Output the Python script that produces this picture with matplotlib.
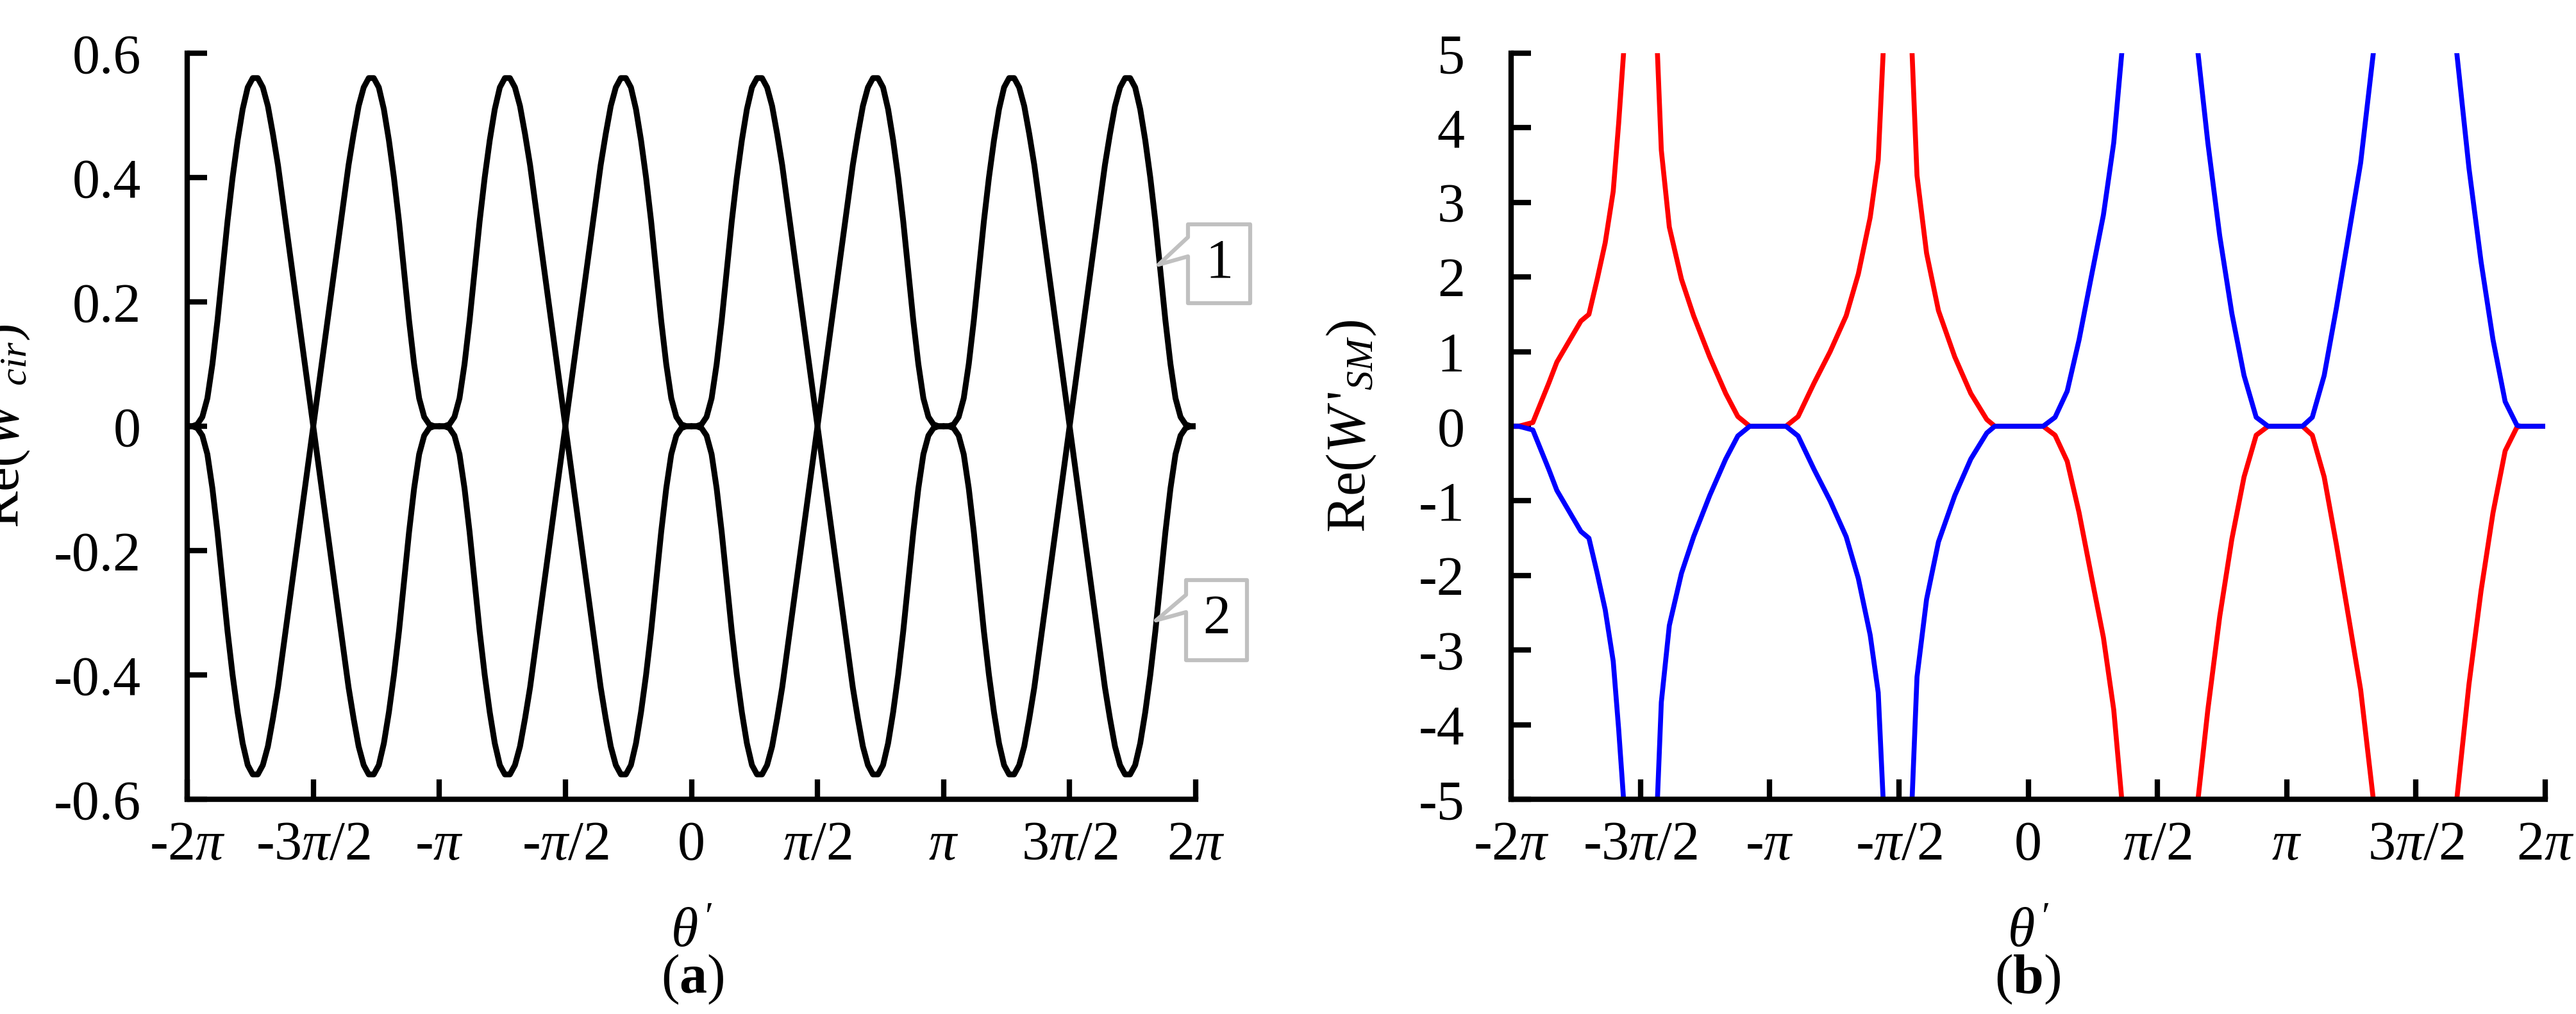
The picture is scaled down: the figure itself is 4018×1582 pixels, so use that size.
import numpy as np
import matplotlib
matplotlib.use('Agg')
import matplotlib.pyplot as plt
from matplotlib.patches import Polygon

plt.rcParams['font.family'] = ['Liberation Serif', 'DejaVu Serif']
plt.rcParams['mathtext.fontset'] = 'custom'
plt.rcParams['mathtext.rm'] = 'Liberation Serif'
plt.rcParams['mathtext.it'] = 'Liberation Serif:italic'
plt.rcParams['mathtext.bf'] = 'Liberation Serif:bold'

W, H = 4018, 1582
DPI = 100

# ---- data: panel (a), one lobe pair over half a period (theta in units of pi)
LOBE_T = [0.00, 0.02, 0.04, 0.06, 0.08, 0.10, 0.12, 0.14, 0.16, 0.18, 0.20, 0.22, 0.24,
          0.26, 0.28, 0.30, 0.32, 0.34, 0.36, 0.38, 0.40, 0.42, 0.44, 0.46, 0.48, 0.50]
LOBE_V = [0.0, 0.0, 0.003, 0.015, 0.045, 0.10, 0.17, 0.25, 0.33, 0.40, 0.46, 0.51, 0.545,
          0.56, 0.56, 0.545, 0.515, 0.47, 0.42, 0.36, 0.30, 0.24, 0.18, 0.12, 0.06, 0.0]
PERIODS = [-2, -1, 0, 1]

# ---- data: panel (b), red branches (theta in units of pi, value)
RED_SEGMENTS = [
    ([-2.0, -1.97, -1.916, -1.854, -1.823, -1.730, -1.699, -1.667, -1.636, -1.605, -1.584, -1.565, -1.560],
     [0.0, 0.0, 0.05, 0.58, 0.86, 1.41, 1.5, 1.97, 2.46, 3.15, 4.06, 5.0, 5.4]),
    ([-1.438, -1.434, -1.419, -1.388, -1.341, -1.294, -1.232, -1.170, -1.123, -1.077, -1.015, -0.937,
      -0.890, -0.828, -0.766, -0.704, -0.657, -0.611, -0.580, -0.561, -0.557],
     [5.4, 5.0, 3.7, 2.67, 1.97, 1.48, 0.93, 0.44, 0.13, 0.0, 0.0, 0.0,
      0.13, 0.58, 1.0, 1.48, 2.04, 2.8, 3.57, 5.0, 5.4]),
    ([-0.452, -0.449, -0.430, -0.393, -0.347, -0.284, -0.222, -0.160, -0.129, 0.0, 0.058,
      0.104, 0.151, 0.197, 0.244, 0.291, 0.331, 0.362, 0.366],
     [5.4, 5.0, 3.36, 2.32, 1.55, 0.93, 0.44, 0.09, 0.0, 0.0, 0.0,
      -0.12, -0.47, -1.16, -2.0, -2.83, -3.8, -5.0, -5.4]),
    ([0.652, 0.657, 0.695, 0.741, 0.788, 0.835, 0.882, 0.928, 1.0, 1.061, 1.099, 1.145, 1.192,
      1.239, 1.286, 1.335, 1.340],
     [-5.4, -5.0, -3.8, -2.55, -1.51, -0.68, -0.12, 0.0, 0.0, 0.0, -0.12, -0.68, -1.58,
      -2.55, -3.53, -5.0, -5.4]),
    ([1.653, 1.658, 1.705, 1.752, 1.798, 1.845, 1.891, 1.907, 2.0],
     [-5.4, -5.0, -3.46, -2.2, -1.16, -0.33, -0.01, 0.0, 0.0]),
]
# blue branches are the mirror image (sign-flipped) of the red ones in the figure
BLUE_SEGMENTS = [(t, [-v for v in vals]) for t, vals in RED_SEGMENTS]

X_TICKS = [-2, -1.5, -1, -0.5, 0, 0.5, 1, 1.5, 2]
X_LABELS = ['-2$\\pi$', '-3$\\pi$/2', '-$\\pi$', '-$\\pi$/2', '0',
            '$\\pi$/2', '$\\pi$', '3$\\pi$/2', '2$\\pi$']
YA_TICKS = [-0.6, -0.4, -0.2, 0, 0.2, 0.4, 0.6]
YA_LABELS = ['-0.6', '-0.4', '-0.2', '0', '0.2', '0.4', '0.6']
YB_TICKS = list(range(-5, 6))

FS = 62
LW_SPINE = 6
LW_CURVE = 6.5

fig = plt.figure(figsize=(W / DPI, H / DPI), dpi=DPI)


def px_axes(x0, x1, y0, y1):
    return fig.add_axes([x0 / W, 1 - y1 / H, (x1 - x0) / W, (y1 - y0) / H])


def style(ax, width_px, ylab_px):
    for s in ['top', 'right']:
        ax.spines[s].set_visible(False)
    for s in ['left', 'bottom']:
        ax.spines[s].set_linewidth(LW_SPINE)
    ax.tick_params(direction='in', length=22, width=LW_SPINE, labelsize=FS, pad=24)
    ax.tick_params(axis='y', pad=52)
    ax.set_xlim(-2, 2)
    ax.set_xticks(X_TICKS)
    ax.set_xticklabels(X_LABELS)
    ax.set_xlabel("$\\theta\\,'$", fontsize=FS)
    ax.xaxis.set_label_coords(0.5, -(1417 - 1247) / 1164)
    ax.yaxis.set_label_coords(-ylab_px / width_px, 0.5)


ax1 = px_axes(292, 1865, 83, 1247)
style(ax1, 1573, 242)
ax1.set_ylim(-0.6, 0.6)
ax1.set_yticks(YA_TICKS)
ax1.set_yticklabels(YA_LABELS)
ax1.set_ylabel("Re($W\\,'_{cir}$)", fontsize=FS)

lobe_t = np.array(LOBE_T)
lobe_v = np.array(LOBE_V)
for k in PERIODS:
    t = np.concatenate([k + lobe_t, k + 1 - lobe_t[::-1]])
    v = np.concatenate([lobe_v, -lobe_v[::-1]])
    ax1.plot(t, -v, color='black', lw=LW_CURVE, solid_capstyle='round')
    ax1.plot(t, v, color='black', lw=LW_CURVE, solid_capstyle='round')

ax2 = px_axes(2357, 3970, 83, 1247)
style(ax2, 1613, 207)
ax2.set_ylim(-5, 5)
ax2.set_yticks(YB_TICKS)
ax2.set_yticklabels([str(v) for v in YB_TICKS])
ax2.set_ylabel("Re($W\\,'_{SM}$)", fontsize=FS)

for t, v in RED_SEGMENTS:
    ax2.plot(t, v, color='#ff0000', lw=LW_CURVE * 0.85)
for t, v in BLUE_SEGMENTS:
    ax2.plot(t, v, color='#0000ff', lw=LW_CURVE * 0.85)

# panel captions
fig.text(1080 / W, 1 - 1528 / H, '($\\mathbf{a}$)', fontsize=FS, ha='center', va='center')
fig.text(3163 / W, 1 - 1528 / H, '($\\mathbf{b}$)', fontsize=FS, ha='center', va='center')


def callout(x0, x1, y0, y1, n0, n1, tip, label):
    pts = [(x0, y0), (x1, y0), (x1, y1), (x0, y1), (x0, n1), tip, (x0, n0)]
    pts = [(px / W, 1 - py / H) for px, py in pts]
    fig.patches.append(Polygon(pts, closed=True, transform=fig.transFigure,
                               facecolor='white', edgecolor='#c0c0c0', lw=4.5,
                               joinstyle='round'))
    fig.text((x0 + x1) / 2 / W, 1 - (y0 + y1) / 2 / H, label, fontsize=FS,
             ha='center', va='center')


callout(1853, 1950, 350, 473, 370, 400, (1807, 413), '1')
callout(1850, 1945, 905, 1030, 928, 955, (1803, 968), '2')

fig.savefig('out.png', dpi=DPI, facecolor='white')
